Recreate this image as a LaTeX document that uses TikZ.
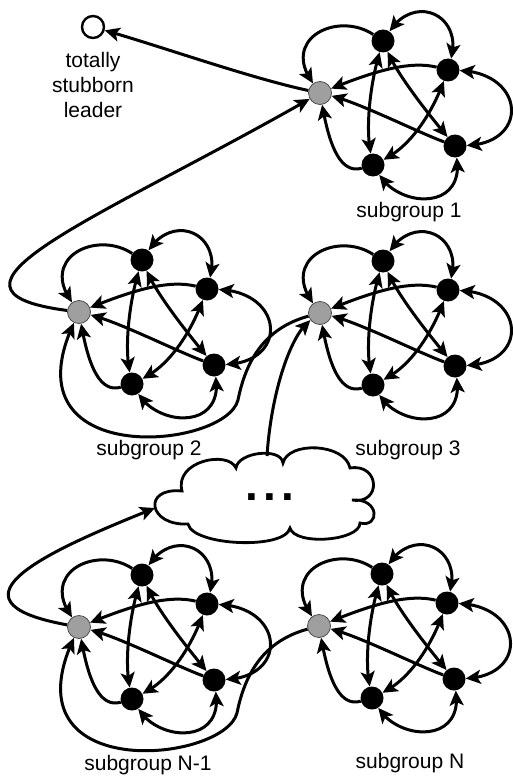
\documentclass[tikz,border=0pt]{standalone}
\usepackage{fontspec}
\setmainfont{Liberation Sans}
\usetikzlibrary{arrows.meta,bending,calc}
\tikzset{
  blk/.style={circle,fill=black,minimum size=23pt,inner sep=0pt},
  gry/.style={circle,fill=gray!75,draw=black!70,line width=0.8pt,minimum size=23pt,inner sep=0pt},
  ldr/.style={circle,fill=white,draw=black,line width=2.4pt,minimum size=22pt,inner sep=0pt},
  tip/.style={},
  arr/.style={line width=3pt,-{Stealth[length=15pt,width=14pt,inset=3.5pt]}},
  biarr/.style={line width=3pt,{Stealth[length=15pt,width=14pt,inset=3.5pt]}-{Stealth[length=15pt,width=14pt,inset=3.5pt]}},
  lbl/.style={font=\fontsize{21}{25}\selectfont,inner sep=0pt},
  cloudline/.style={line width=2.8pt,fill=white},
}
\newcommand{\drawsubgroup}[3]{%
  \begin{scope}[shift={(#2,#3)}]
    \node[gry] (#1g) at (0,0) {};
    \node[blk] (#1t) at (63,-52) {};
    \node[blk] (#1rt) at (128,-23) {};
    \node[blk] (#1rb) at (135,53) {};
    \node[blk] (#1b) at (53,72) {};
  \end{scope}
  \draw[arr] (#1t) .. controls +(-45,-30) and +(-40,-55) .. (#1g);
  \draw[biarr] (#1t) .. controls +(32,-48) and +(15,-55) .. (#1rt);
  \draw[biarr] (#1rt) .. controls +(77,3) and +(75,-3) .. (#1rb);
  \draw[biarr] (#1b) .. controls +(27,43) and +(10,65) .. (#1rb);
  \draw[arr] (#1b) .. controls +(-35,10) and +(8,45) .. (#1g);
  \draw[arr] (#1rt) .. controls +(-40,-10) and +(50,-20) .. (#1g);
  \draw[arr] (#1rb) .. controls +(-40,-15) and +(40,10) .. (#1g);
  \draw[biarr] (#1t) .. controls +(-12,40) and +(-8,-40) .. (#1b);
  \draw[biarr] (#1t) .. controls +(15,35) and +(-25,-30) .. (#1rb);
  \draw[biarr] (#1rt) .. controls +(-15,40) and +(40,-20) .. (#1b);
}
\begin{document}
\begin{tikzpicture}[x=1pt,y=-1pt]
\useasboundingbox (0,0) rectangle (512,781);

% leader
\node[ldr] (leader) at (93,27) {};
\node[lbl,align=center] (leadertxt) at (93,85) {totally\\stubborn\\leader};

% subgroups
\drawsubgroup{s1}{320}{93}
\drawsubgroup{s2}{79}{312}
\drawsubgroup{s3}{320}{313}
\drawsubgroup{s4}{79}{627}
\drawsubgroup{s5}{319}{626}

\node[lbl] (l1) at (409,212) {subgroup 1};
\node[lbl] (l2) at (149,450) {subgroup 2};
\node[lbl] (l3) at (408,450) {subgroup 3};
\node[lbl] (l4) at (148,765) {subgroup N-1};
\node[lbl] (l5) at (410,763) {subgroup N};

% cloud
\draw[cloudline] (182,491)
  .. controls (174,461) and (228,450) .. (236,468)
  .. controls (238,452) and (281,447) .. (283,463)
  .. controls (288,441) and (345,443) .. (350,468)
  .. controls (380,463) and (382,505) .. (352,500)
  .. controls (380,498) and (380,528) .. (360,523)
  .. controls (360,541) and (295,546) .. (290,528)
  .. controls (285,550) and (193,546) .. (188,524)
  .. controls (148,526) and (142,487) .. cycle;
\node[font=\fontsize{46}{46}\selectfont\bfseries,inner sep=0pt] (dots) at (270,497) {.\kern5pt.\kern5pt.};
\coordinate (cloudtop) at (267,456);
\coordinate (cloudleft) at (155,508);

% inter-group connectors
\draw[arr] (s1g) .. controls +(-70,-15) and +(70,20) .. (leader);
\draw[arr] (s2g) .. controls +(-169,-22) and +(-217,124) .. (s1g);
\draw[arr] (s3g) .. controls +(-55,15) and +(8,-40) .. ($(s3g)+(-82,87)$)
  .. controls +(-13,50) and +(-74,158) .. (s2g);
\draw[arr] (cloudtop) .. controls +(4,-62) and +(-30,22) .. (s3g);
\draw[arr] (s4g) .. controls +(-149,-27) and +(-92,37) .. (cloudleft);
\draw[arr] (s5g) .. controls +(-55,15) and +(8,-40) .. ($(s5g)+(-82,87)$)
  .. controls +(-13,50) and +(-74,158) .. (s4g);
\end{tikzpicture}
\end{document}
